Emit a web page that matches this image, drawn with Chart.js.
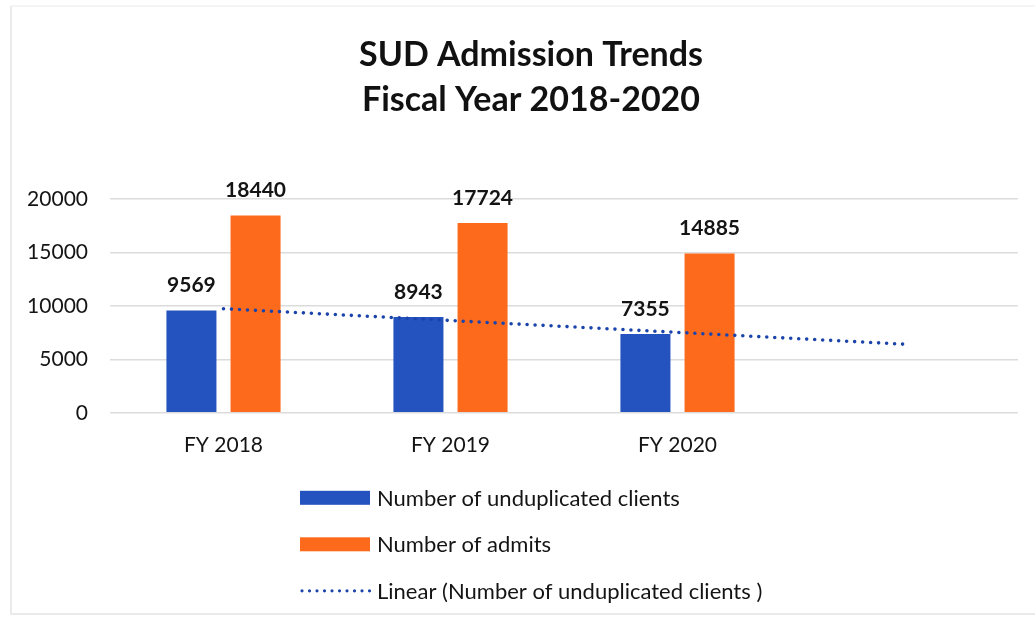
<!DOCTYPE html>
<html>
<head>
<meta charset="utf-8">
<script src="https://cdn.jsdelivr.net/npm/chart.js@4/dist/chart.umd.min.js"></script>
<style>
  html, body { margin: 0; padding: 0; background: #ffffff; }
  #wrap { position: relative; width: 1035px; height: 620px; }
</style>
</head>
<body>
<div id="wrap"><canvas id="chart" width="1035" height="620"></canvas></div>
<script>
// Fiscal-year categories (the fourth slot holds the trendline's forecast period)
const categories = ['FY 2018', 'FY 2019', 'FY 2020', ''];
const unduplicatedClients = [9569, 8943, 7355, null];
const admits = [18440, 17724, 14885, null];
// Linear trendline of unduplicated clients: start and one-period forecast end
const clientsTrend = [9729, null, null, 6408];
const yTicks = [0, 5000, 10000, 15000, 20000];

const titleLines = ['SUD Admission Trends', 'Fiscal Year 2018-2020'];
const seriesNames = ['Number of unduplicated clients', 'Number of admits', 'Linear (Number of unduplicated clients )'];

const FONT = 'Lato, "Open Sans", sans-serif';
const BLUE = '#2453c0';
const ORANGE = '#fe6a1c';
const TREND = '#1b44ab';
const INK = '#141414';

// nudge the title block so it sits centred over the whole page
const titleShift = {
  id: 'titleShift',
  afterLayout(chart) {
    const t = chart.titleBlock;
    if (t) { t.left += 13; t.right += 13; }
  }
};

// value labels above each bar
const barValueLabels = {
  id: 'barValueLabels',
  afterDatasetsDraw(chart) {
    const ctx = chart.ctx;
    ctx.save();
    ctx.font = 'bold 21px ' + FONT;
    ctx.fillStyle = INK;
    ctx.textAlign = 'center';
    ctx.textBaseline = 'middle';
    chart.data.datasets.forEach((ds, i) => {
      if (ds.type === 'line') return;
      const meta = chart.getDatasetMeta(i);
      meta.data.forEach((bar, j) => {
        const v = ds.data[j];
        if (v === null || v === undefined) return;
        ctx.fillText(String(v), bar.x, bar.y - 25);
      });
    });
    ctx.restore();
  }
};

// stacked legend under the axis, one entry per row
const stackedLegend = {
  id: 'stackedLegend',
  afterDraw(chart) {
    const ctx = chart.ctx;
    const left = 300;
    const swatchW = 70;
    const firstRow = chart.chartArea.bottom + 85;
    const rowGap = 46.5;
    ctx.save();
    ctx.font = '22px ' + FONT;
    ctx.textBaseline = 'middle';
    ctx.textAlign = 'left';
    chart.data.datasets.forEach((ds, i) => {
      const y = firstRow + i * rowGap;
      if (ds.type === 'line') {
        ctx.strokeStyle = ds.borderColor;
        ctx.lineWidth = 3.2;
        ctx.lineCap = 'round';
        ctx.setLineDash([0, 7.5]);
        ctx.beginPath();
        ctx.moveTo(left + 2, y);
        ctx.lineTo(left + swatchW, y);
        ctx.stroke();
        ctx.setLineDash([]);
      } else {
        ctx.fillStyle = ds.backgroundColor;
        ctx.fillRect(left, y - 7, swatchW, 14);
      }
      ctx.fillStyle = INK;
      ctx.fillText(ds.label, left + swatchW + 7, y + 1);
    });
    ctx.restore();
  }
};

// faint page frame around the chart
const frame = {
  id: 'frame',
  beforeDraw(chart) {
    const ctx = chart.ctx;
    ctx.save();
    ctx.strokeStyle = '#e4e4e4';
    ctx.lineWidth = 1.5;
    ctx.beginPath();
    ctx.moveTo(11, 6);
    ctx.lineTo(11, 614);
    ctx.lineTo(1035, 614);
    ctx.stroke();
    ctx.beginPath();
    ctx.moveTo(11, 6);
    ctx.lineTo(1035, 6);
    ctx.strokeStyle = '#f0f0f0';
    ctx.stroke();
    ctx.restore();
  }
};

new Chart(document.getElementById('chart'), {
  type: 'bar',
  data: {
    labels: categories,
    datasets: [
      {
        label: seriesNames[0],
        data: unduplicatedClients,
        backgroundColor: BLUE,
        categoryPercentage: 0.565,
        barPercentage: 0.78,
        order: 2
      },
      {
        label: seriesNames[1],
        data: admits,
        backgroundColor: ORANGE,
        categoryPercentage: 0.565,
        barPercentage: 0.78,
        order: 2
      },
      {
        type: 'line',
        label: seriesNames[2],
        data: clientsTrend,
        spanGaps: true,
        borderColor: TREND,
        borderWidth: 3.6,
        borderDash: [0, 8],
        borderCapStyle: 'round',
        pointRadius: 0,
        fill: false,
        tension: 0,
        order: 1
      }
    ]
  },
  options: {
    responsive: false,
    animation: false,
    layout: { padding: { top: 0, left: 18, right: 17, bottom: 142 } },
    plugins: {
      legend: { display: false },
      tooltip: { enabled: false },
      title: {
        display: true,
        text: titleLines,
        color: '#111111',
        font: { family: FONT, size: 34, weight: 'bold', lineHeight: 1.32 },
        padding: { top: 33, bottom: 76 }
      }
    },
    scales: {
      x: {
        grid: { display: false, drawTicks: false },
        border: { display: false },
        ticks: {
          color: INK,
          font: { family: FONT, size: 21 },
          padding: 20,
          maxRotation: 0
        }
      },
      y: {
        min: 0,
        max: 20000,
        afterFit(scale) { scale.width = 92; },
        afterBuildTicks(scale) { scale.ticks = yTicks.map(v => ({ value: v })); },
        grid: { color: '#dcdcdc', lineWidth: 1.5, drawTicks: false },
        border: { display: false },
        ticks: {
          color: INK,
          font: { family: FONT, size: 21 },
          padding: 22,
          callback: (value) => String(value)
        }
      }
    }
  },
  plugins: [titleShift, frame, barValueLabels, stackedLegend]
});
</script>
</body>
</html>
